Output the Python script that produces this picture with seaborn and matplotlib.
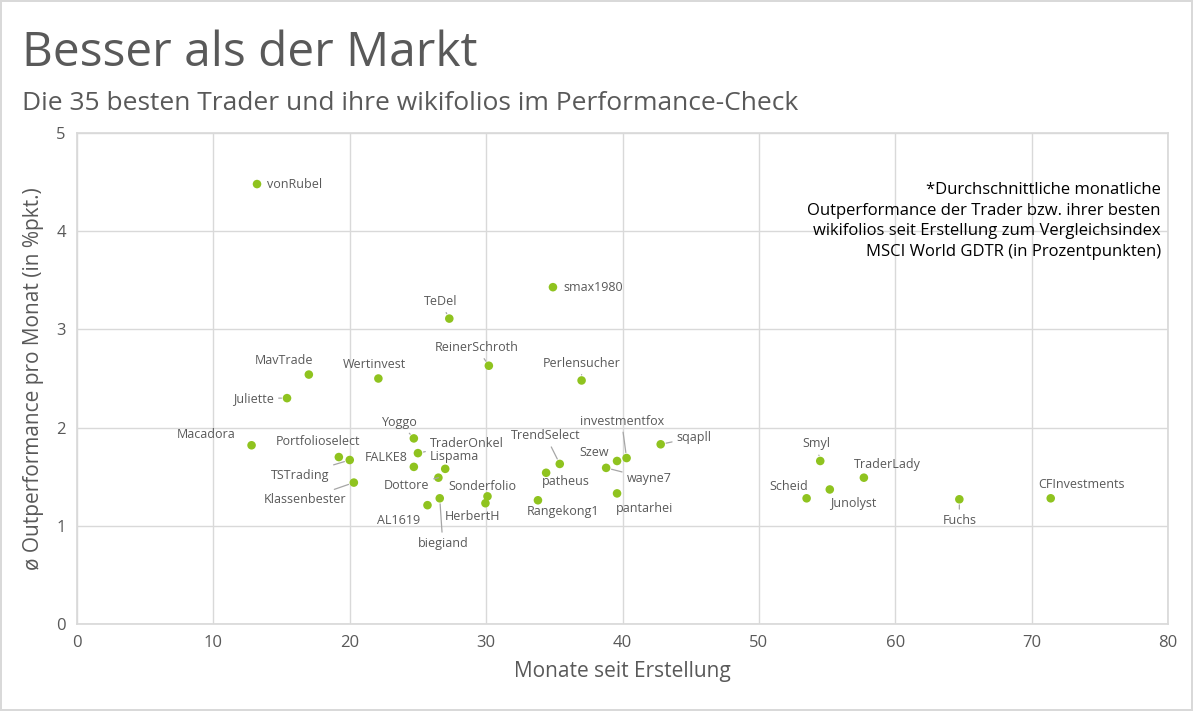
import numpy as np
import matplotlib
matplotlib.use('Agg')
import matplotlib.pyplot as plt
import pandas as pd
import seaborn as sns

# data
names = ['vonRubel', 'smax1980', 'TeDel', 'ReinerSchroth', 'Perlensucher', 'MavTrade',
         'Wertinvest', 'Juliette', 'Macadora', 'Portfolioselect', 'TSTrading', 'Klassenbester',
         'Yoggo', 'TraderOnkel', 'FALKE8', 'Lispama', 'Dottore', 'biegiand', 'AL1619',
         'Sonderfolio', 'HerbertH', 'TrendSelect', 'patheus', 'Rangekong1', 'Szew',
         'investmentfox', 'wayne7', 'pantarhei', 'sqapll', 'Smyl', 'TraderLady', 'Scheid',
         'Junolyst', 'Fuchs', 'CFInvestments']
months = [13.2, 34.9, 27.3, 30.2, 37.0, 17.0,
          22.1, 15.4, 12.8, 19.2, 20.0, 20.3,
          24.7, 25.0, 24.7, 27.0, 26.5, 26.6, 25.7,
          30.1, 29.95, 35.4, 34.4, 33.8, 39.6,
          40.3, 38.8, 39.6, 42.8, 54.5, 57.7, 53.5,
          55.2, 64.7, 71.4]
outperf = [4.48, 3.43, 3.11, 2.63, 2.48, 2.54,
           2.50, 2.30, 1.82, 1.70, 1.67, 1.44,
           1.89, 1.74, 1.60, 1.58, 1.49, 1.28, 1.21,
           1.30, 1.23, 1.63, 1.54, 1.26, 1.66,
           1.69, 1.59, 1.33, 1.83, 1.66, 1.49, 1.28,
           1.37, 1.27, 1.28]

# label placement: (dx, dy in pixels, ha, leader line)
lab_pos = {
    'vonRubel': (10, 0, 'left', False), 'smax1980': (10, 0, 'left', False),
    'TeDel': (-9, 17, 'center', True), 'ReinerSchroth': (-12, 18, 'center', True),
    'Perlensucher': (0, 17, 'center', True), 'MavTrade': (-25, 14, 'center', False),
    'Wertinvest': (-4, 14, 'center', False), 'Juliette': (-13, 0, 'right', True),
    'Macadora': (-45, 11, 'center', False), 'Portfolioselect': (-21, 16, 'center', False),
    'TSTrading': (-50, -15, 'center', True), 'Klassenbester': (-49, -17, 'center', True),
    'Yoggo': (-14, 16, 'center', True), 'TraderOnkel': (12, 10, 'left', True),
    'FALKE8': (-28, 9, 'center', False), 'Lispama': (9, 12, 'center', False),
    'Dottore': (-32, -8, 'center', True), 'biegiand': (3, -45, 'center', True),
    'AL1619': (-29, -15, 'center', False), 'Sonderfolio': (-5, 10, 'center', False),
    'HerbertH': (-13, -13, 'center', False), 'TrendSelect': (-14, 28, 'center', True),
    'patheus': (20, -9, 'center', False), 'Rangekong1': (25, -11, 'center', False),
    'Szew': (-23, 8, 'center', False), 'investmentfox': (-5, 37, 'center', True),
    'wayne7': (43, -11, 'center', True), 'pantarhei': (28, -15, 'center', False),
    'sqapll': (16, 7, 'left', True), 'Smyl': (-4, 17, 'center', True),
    'TraderLady': (23, 13, 'center', False), 'Scheid': (-18, 12, 'center', False),
    'Junolyst': (23, -14, 'center', False), 'Fuchs': (0, -21, 'center', True),
    'CFInvestments': (31, 14, 'center', False),
}

df = pd.DataFrame({'name': names, 'months': months, 'outperf': outperf})

sns.set_theme(style='white')
plt.rcParams['font.family'] = ['Open Sans', 'DejaVu Sans']
grey = '#595959'
green = '#8fc31f'

fig = plt.figure(figsize=(11.93, 7.11), dpi=100)
fig.patch.set_edgecolor('#d9d9d9')
fig.patch.set_linewidth(1.5)
ax = fig.add_axes([77 / 1193, 87 / 711, 1091 / 1193, 491 / 711])

sns.scatterplot(data=df, x='months', y='outperf', ax=ax, color=green, s=38,
                edgecolor='none', zorder=3)

for n, x, y in zip(names, months, outperf):
    dx, dy, ha, line = lab_pos[n]
    arrow = dict(arrowstyle='-', color='#a6a6a6', lw=0.9, shrinkA=1, shrinkB=4) if line else None
    ax.annotate(n, (x, y), xytext=(dx, dy), textcoords='offset pixels', ha=ha, va='center',
                fontsize=9, color=grey, arrowprops=arrow, zorder=4)

ax.set_xlim(0, 80)
ax.set_ylim(0, 5)
ax.set_xticks(range(0, 81, 10))
ax.set_yticks(range(0, 6))
ax.grid(True, color='#d9d9d9', lw=1)
for s in ax.spines.values():
    s.set_color('#d9d9d9')
ax.tick_params(length=0, labelsize=12, labelcolor=grey, pad=8)
ax.set_xlabel('Monate seit Erstellung', fontsize=15, color=grey, labelpad=7)
ax.set_ylabel('ø Outperformance pro Monat (in %pkt.)', fontsize=15, color=grey, labelpad=9)

fig.text(22 / 1193, 1 - 53 / 711, 'Besser als der Markt', fontsize=34.5, color=grey,
         ha='left', va='center')
fig.text(22 / 1193, 1 - 103 / 711, 'Die 35 besten Trader und ihre wikifolios im Performance-Check',
         fontsize=19, color=grey, ha='left', va='center')

ax.text(0.9935, 0.9, '*Durchschnittliche monatliche\nOutperformance der Trader bzw. ihrer besten\n'
        'wikifolios seit Erstellung zum Vergleichsindex\nMSCI World GDTR (in Prozentpunkten)',
        transform=ax.transAxes, ha='right', va='top', fontsize=12, color='black',
        linespacing=1.38)

fig.savefig('out.png', dpi=100)
